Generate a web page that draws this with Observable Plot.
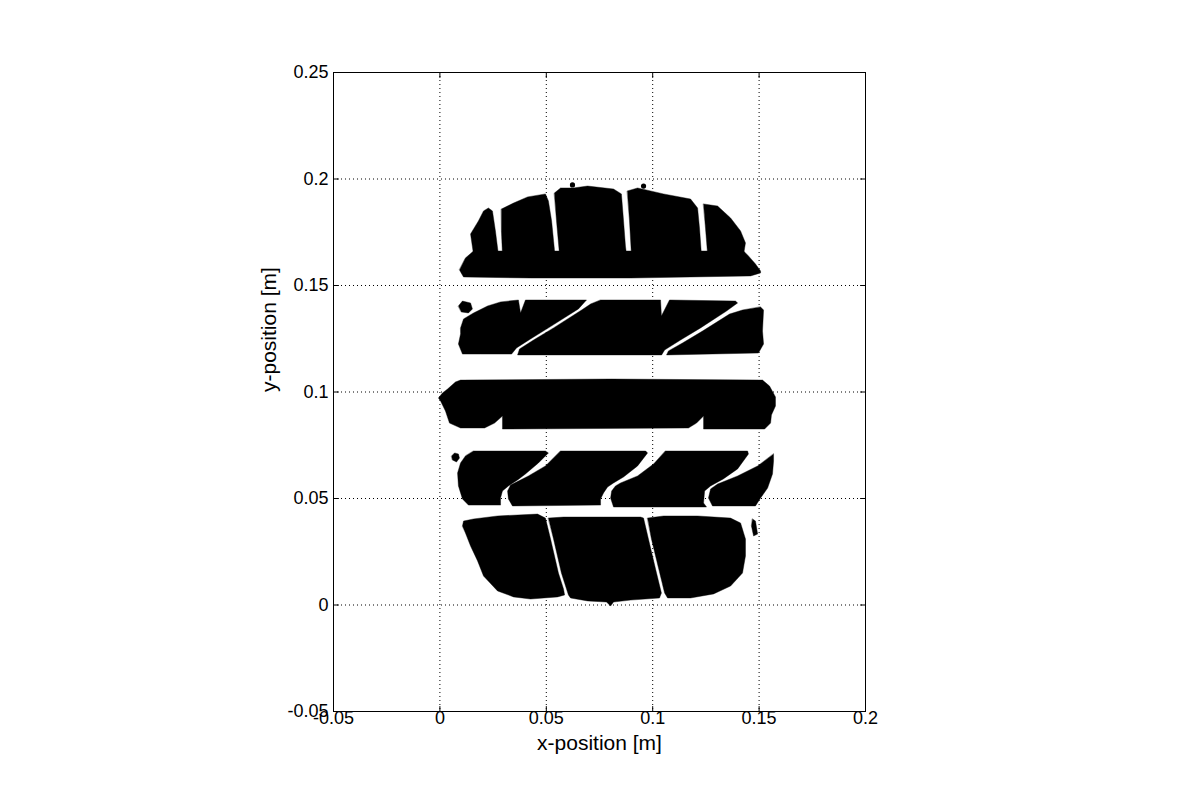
<!DOCTYPE html>
<html lang="en">
<head>
<meta charset="UTF-8">
<title>Tyre footprint</title>
<style>
  body { margin: 0; background: #ffffff; overflow: hidden; }
  #chart svg { display: block; }
</style>
</head>
<body>
<div id="chart"></div>

<script src="https://cdn.jsdelivr.net/npm/d3@7"></script>
<script src="https://cdn.jsdelivr.net/npm/@observablehq/plot@0.6"></script>
<script>
// axes
const xDomain = [-0.05, 0.2];
const yDomain = [-0.05, 0.25];
const xTicks = [-0.05, 0, 0.05, 0.1, 0.15, 0.2];
const yTicks = [-0.05, 0, 0.05, 0.1, 0.15, 0.2, 0.25];
const xTickLabels = ["-0.05", "0", "0.05", "0.1", "0.15", "0.2"];
const yTickLabels = ["-0.05", "0", "0.05", "0.1", "0.15", "0.2", "0.25"];
const xLabel = "x-position [m]";
const yLabel = "y-position [m]";

// contact patch outlines, [x, y] in metres
// row 1 (top): base strip plus five shoulder blocks
const row1Base = [[0.0092,0.1573],[0.0111,0.1540],[0.0426,0.1535],[0.0896,0.1535],[0.1460,0.1545],[0.1507,0.1559],[0.1507,0.1568],[0.1483,0.1601],[0.1450,0.1639],[0.1427,0.1662],[0.0158,0.1662],[0.0120,0.1629]];
const row1Block0 = [[0.0158,0.1645],[0.0144,0.1742],[0.0181,0.1803],[0.0205,0.1850],[0.0228,0.1864],[0.0247,0.1850],[0.0261,0.1756],[0.0275,0.1645]];
const row1Block1 = [[0.0289,0.1859],[0.0346,0.1887],[0.0412,0.1916],[0.0496,0.1930],[0.0510,0.1897],[0.0525,0.1803],[0.0538,0.1671],[0.0540,0.1645],[0.0294,0.1645],[0.0289,0.1756]];
const row1Block2 = [[0.0538,0.1934],[0.0567,0.1958],[0.0628,0.1958],[0.0694,0.1967],[0.0816,0.1953],[0.0853,0.1930],[0.0862,0.1817],[0.0872,0.1685],[0.0877,0.1645],[0.0562,0.1645],[0.0548,0.1803]];
const row1Block3 = [[0.0881,0.1944],[0.0929,0.1958],[0.1051,0.1930],[0.1178,0.1906],[0.1211,0.1864],[0.1220,0.1770],[0.1229,0.1645],[0.0900,0.1645],[0.0891,0.1803]];
const row1Block4 = [[0.1239,0.1883],[0.1305,0.1873],[0.1366,0.1817],[0.1413,0.1756],[0.1436,0.1700],[0.1427,0.1645],[0.1258,0.1645],[0.1248,0.1770]];

// row 2: three slanted blocks and a loose blob
const row2Blob = [[0.0087,0.1404],[0.0106,0.1427],[0.0144,0.1418],[0.0153,0.1390],[0.0134,0.1371],[0.0101,0.1376]];
const row2Block1 = [[0.0097,0.1301],[0.0111,0.1343],[0.0158,0.1371],[0.0224,0.1404],[0.0285,0.1423],[0.0369,0.1432],[0.0379,0.1371],[0.0402,0.1432],[0.0689,0.1432],[0.0651,0.1390],[0.0520,0.1307],[0.0426,0.1249],[0.0360,0.1207],[0.0337,0.1178],[0.0191,0.1178],[0.0106,0.1178],[0.0087,0.1225],[0.0097,0.1272]];
const row2Block2 = [[0.0755,0.1432],[0.1037,0.1432],[0.1041,0.1357],[0.1079,0.1432],[0.1389,0.1427],[0.1399,0.1418],[0.1347,0.1380],[0.1225,0.1301],[0.1131,0.1244],[0.1056,0.1197],[0.1042,0.1174],[0.0365,0.1174],[0.0374,0.1202],[0.0440,0.1244],[0.0534,0.1301],[0.0666,0.1385],[0.0708,0.1413]];
const row2Block3 = [[0.1507,0.1399],[0.1521,0.1385],[0.1516,0.1286],[0.1521,0.1225],[0.1497,0.1183],[0.1065,0.1174],[0.1074,0.1193],[0.1140,0.1230],[0.1234,0.1286],[0.1361,0.1366],[0.1422,0.1385]];

// row 3: centre rib
const row3Rib = [[0.0036,0.1014],[0.0073,0.1047],[0.0097,0.1056],[0.0802,0.1061],[0.1516,0.1056],[0.1549,0.1028],[0.1577,0.0977],[0.1577,0.0934],[0.1558,0.0892],[0.1554,0.0854],[0.1526,0.0826],[0.1239,0.0826],[0.1239,0.0887],[0.1206,0.0854],[0.1168,0.0831],[0.0294,0.0826],[0.0294,0.0887],[0.0257,0.0854],[0.0210,0.0831],[0.0097,0.0831],[0.0045,0.0854],[0.0026,0.0911],[0.0003,0.0958],[-0.0007,0.0972],[0.0012,0.0995]];

// row 4: four slanted blocks and a loose blob
const row4Blob = [[0.0055,0.0700],[0.0069,0.0714],[0.0087,0.0709],[0.0092,0.0690],[0.0078,0.0671],[0.0059,0.0681]];
const row4Block1 = [[0.0158,0.0723],[0.0496,0.0723],[0.0510,0.0714],[0.0463,0.0667],[0.0402,0.0615],[0.0365,0.0587],[0.0322,0.0559],[0.0294,0.0535],[0.0285,0.0502],[0.0285,0.0469],[0.0134,0.0469],[0.0106,0.0498],[0.0087,0.0559],[0.0083,0.0620],[0.0097,0.0667],[0.0120,0.0700]];
const row4Block2 = [[0.0567,0.0723],[0.0967,0.0723],[0.0976,0.0714],[0.0929,0.0653],[0.0863,0.0601],[0.0816,0.0573],[0.0788,0.0554],[0.0769,0.0526],[0.0755,0.0498],[0.0755,0.0469],[0.0341,0.0465],[0.0322,0.0498],[0.0318,0.0535],[0.0332,0.0563],[0.0369,0.0582],[0.0416,0.0606],[0.0496,0.0653]];
const row4Block3 = [[0.1060,0.0723],[0.1446,0.0723],[0.1450,0.0709],[0.1399,0.0639],[0.1332,0.0592],[0.1272,0.0559],[0.1244,0.0535],[0.1239,0.0479],[0.1253,0.0460],[0.0816,0.0460],[0.0802,0.0502],[0.0807,0.0535],[0.0825,0.0559],[0.0849,0.0573],[0.0929,0.0606],[0.1004,0.0662]];
const row4Block4 = [[0.1568,0.0709],[0.1568,0.0676],[0.1563,0.0615],[0.1540,0.0549],[0.1507,0.0502],[0.1483,0.0465],[0.1281,0.0465],[0.1262,0.0502],[0.1272,0.0545],[0.1305,0.0568],[0.1399,0.0606],[0.1493,0.0653]];

// row 5 (bottom): three shoulder blocks and a loose blob
const row5Block1 = [[0.0106,0.0371],[0.0111,0.0394],[0.0158,0.0404],[0.0271,0.0418],[0.0459,0.0427],[0.0496,0.0408],[0.0520,0.0310],[0.0557,0.0150],[0.0581,0.0075],[0.0586,0.0047],[0.0553,0.0038],[0.0426,0.0028],[0.0346,0.0038],[0.0271,0.0066],[0.0205,0.0136],[0.0177,0.0207],[0.0144,0.0277],[0.0120,0.0338]];
const row5Block2 = [[0.0510,0.0408],[0.0581,0.0413],[0.0769,0.0413],[0.0943,0.0413],[0.0957,0.0408],[0.0980,0.0310],[0.1018,0.0150],[0.1041,0.0056],[0.1032,0.0033],[0.0896,0.0023],[0.0816,0.0014],[0.0802,-0.0005],[0.0783,0.0014],[0.0694,0.0019],[0.0614,0.0033],[0.0604,0.0047],[0.0595,0.0075],[0.0571,0.0150],[0.0534,0.0310]];
const row5Block3 = [[0.0976,0.0408],[0.1051,0.0418],[0.1211,0.0418],[0.1366,0.0408],[0.1413,0.0385],[0.1436,0.0310],[0.1436,0.0230],[0.1422,0.0150],[0.1366,0.0089],[0.1286,0.0052],[0.1178,0.0033],[0.1070,0.0033],[0.1056,0.0056],[0.1033,0.0150],[0.0994,0.0310]];
const row5Blob = [[0.1469,0.0404],[0.1483,0.0394],[0.1493,0.0333],[0.1474,0.0324],[0.1464,0.0371]];

// stray single points above row 1
const strayX = [0.0623, 0.0957];
const strayY = [0.1972, 0.1967];

const patches = {
  row1Base, row1Block0, row1Block1, row1Block2, row1Block3, row1Block4,
  row2Blob, row2Block1, row2Block2, row2Block3,
  row3Rib,
  row4Blob, row4Block1, row4Block2, row4Block3, row4Block4,
  row5Block1, row5Block2, row5Block3, row5Blob
};
const rows = Object.entries(patches).flatMap(([id, pts]) => pts.map(([x, y]) => ({id, x, y})));
const stray = strayX.map((x, i) => ({x, y: strayY[i]}));

// short inward tick, like matlab
const tickShape = {draw(context, l) { context.moveTo(0, 0); context.lineTo(0, -l); }};
const tick = {length: 5, anchor: "start", shape: tickShape, stroke: "black", strokeWidth: 1};

const chart = Plot.plot({
  width: 1200,
  height: 800,
  marginLeft: 333,
  marginRight: 335,
  marginTop: 72,
  marginBottom: 89,
  style: {fontFamily: "'Liberation Sans', Arial, sans-serif", fontSize: "18px", color: "black", background: "white"},
  x: {domain: xDomain},
  y: {domain: yDomain},
  marks: [
    Plot.gridX(xTicks, {stroke: "black", strokeOpacity: 1, strokeDasharray: "1,3"}),
    Plot.gridY(yTicks, {stroke: "black", strokeOpacity: 1, strokeDasharray: "1,3"}),
    Plot.line(rows, {x: "x", y: "y", z: "id", curve: "linear-closed", fill: "black", stroke: "black", strokeWidth: 0.4}),
    Plot.dot(stray, {x: "x", y: "y", r: 2.6, fill: "black"}),
    Plot.frame({stroke: "black", strokeWidth: 1}),
    Plot.vector(xTicks, {...tick, x: d => d, y: () => yDomain[0], rotate: 0}),
    Plot.vector(xTicks, {...tick, x: d => d, y: () => yDomain[1], rotate: 180}),
    Plot.vector(yTicks, {...tick, x: () => xDomain[0], y: d => d, rotate: 90}),
    Plot.vector(yTicks, {...tick, x: () => xDomain[1], y: d => d, rotate: -90}),
    Plot.axisX({ticks: xTicks, tickSize: 0, tickPadding: 0, label: null, fontSize: 18,
      tickFormat: d => xTickLabels[xTicks.indexOf(d)]}),
    Plot.axisY({ticks: yTicks, tickSize: 0, tickPadding: 5, label: null, fontSize: 18,
      tickFormat: d => yTickLabels[yTicks.indexOf(d)]}),
    Plot.text([xLabel], {frameAnchor: "bottom", dy: 38, fontSize: 21, fill: "black"}),
    Plot.text([yLabel], {frameAnchor: "left", dx: -64, rotate: -90, fontSize: 21, fill: "black"})
  ]
});

document.querySelector("#chart").append(chart);
</script>
</body>
</html>
